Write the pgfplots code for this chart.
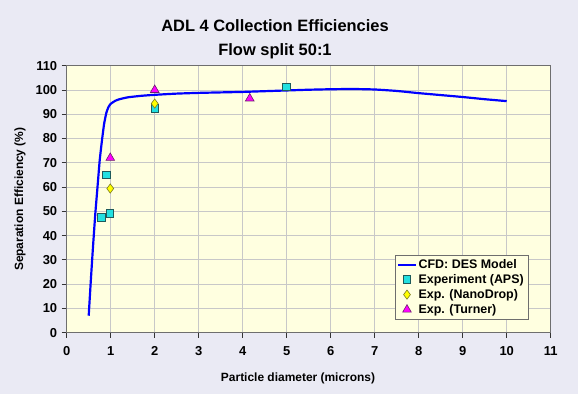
\documentclass[border=0pt]{standalone}
\usepackage{fontspec}
\setmainfont{Liberation Sans}
\usepackage{pgfplots}
\pgfplotsset{compat=1.18}
\definecolor{outerbg}{HTML}{EAEAF4}
\definecolor{plotbg}{HTML}{FFFFE0}
\definecolor{gridc}{HTML}{C8C8C8}
\definecolor{framec}{HTML}{6E6E6E}
\definecolor{apsfill}{HTML}{22E0E0}
\definecolor{apsdraw}{HTML}{1E5A5A}
\definecolor{ndfill}{HTML}{FFFF00}
\definecolor{nddraw}{HTML}{7A7A20}
\definecolor{tufill}{HTML}{FF00FF}
\definecolor{tudraw}{HTML}{6A206A}
\begin{document}
\begin{tikzpicture}
\fill[outerbg] (0bp,0bp) rectangle (578bp,394bp);
\node[font=\bfseries\fontsize{16.5}{24}\selectfont, align=center] at (275bp,355bp) {ADL 4 Collection Efficiencies\\Flow split 50:1};
\begin{axis}[
  at={(66.7bp,61.3bp)}, anchor=south west,
  scale only axis, width=484bp, height=267bp,
  xmin=0, xmax=11, ymin=0, ymax=110,
  xtick={0,1,...,11}, ytick={0,10,...,110},
  tick pos=left, tick align=outside,
  major tick length=5bp,
  grid=major,
  major grid style={gridc, line width=0.8pt},
  axis background/.style={fill=plotbg},
  axis line style={framec, line width=1pt},
  tick style={black!80, line width=0.8pt},
  /pgf/number format/assume math mode=true,
  ticklabel style={font=\bfseries\fontsize{13}{15}\selectfont},
  xticklabel style={yshift=-5bp},
  yticklabel style={xshift=-1bp},
  xlabel={Particle diameter (microns)},
  ylabel={Separation Efficiency (\%)},
  label style={font=\bfseries\fontsize{12}{14}\selectfont},
  xlabel style={at={(axis description cs:0.478,-0.17)}, anchor=center},
  ylabel style={at={(axis description cs:-0.0965,0.5)}, anchor=center, rotate=0},
  legend style={at={(0.953,0.051)}, anchor=south east, fill=plotbg, draw=framec,
    font=\bfseries\fontsize{12.5}{14}\selectfont, row sep=0.5pt, inner sep=2pt},
  legend cell align=left,
]
\addplot[blue, line width=2.2pt, smooth, tension=0.3] coordinates {
 (0.5,7) (0.55,22) (0.6,36) (0.65,49) (0.7,60) (0.75,71) (0.8,79) (0.85,86)
 (0.9,90.5) (0.95,93) (1.0,94.3) (1.1,95.5) (1.2,96.2) (1.4,97) (1.7,97.6)
 (2,98) (2.5,98.5) (3,98.8) (3.5,99) (4,99.2) (4.5,99.5) (5,99.8) (5.5,100.1)
 (6,100.3) (6.5,100.4) (7,100.2) (7.5,99.6) (8,98.7) (8.5,97.9) (9,97.1)
 (9.5,96.2) (10,95.4)};
\addlegendentry{CFD: DES Model}
\addplot[only marks, mark=square*, mark size=3.8bp, mark options={fill=apsfill, draw=apsdraw, line width=0.8pt}] coordinates {
 (0.79,47.5) (0.9,65) (0.98,49.2) (2.0,92.3) (4.99,101.2)};
\addlegendentry{Experiment (APS)}
\addplot[only marks, mark=diamond*, mark size=4.6bp, mark options={fill=ndfill, draw=nddraw, line width=0.6pt}] coordinates {
 (0.99,59.4) (2.0,94.4)};
\addlegendentry{Exp. (NanoDrop)}
\addplot[only marks, mark=triangle*, mark size=5bp, mark options={fill=tufill, draw=tudraw, line width=0.6pt}] coordinates {
 (0.99,72) (2.0,100) (4.16,96.5)};
\addlegendentry{Exp. (Turner)}
\end{axis}
\end{tikzpicture}
\end{document}
